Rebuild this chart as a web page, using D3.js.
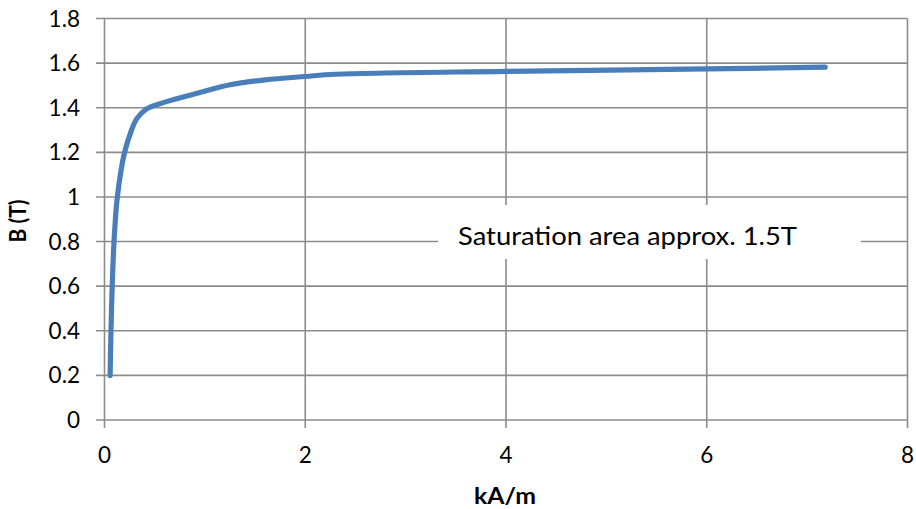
<!DOCTYPE html>
<html><head><meta charset="utf-8">
<script src="https://cdn.jsdelivr.net/npm/d3@7"></script>
<style>html,body{margin:0;padding:0;background:#fff;}svg{display:block;}</style>
</head><body>
<svg id="c" width="916" height="509"></svg>
<script>
const H = [0.056, 0.07, 0.095, 0.128, 0.2, 0.27, 0.32, 0.42, 0.6, 0.95, 1.25, 1.6, 2.0, 2.3, 4.0, 6.0, 7.18];
const B = [0.2, 0.5, 0.8, 1.0, 1.2, 1.3, 1.35, 1.395, 1.425, 1.468, 1.503, 1.525, 1.54, 1.55, 1.563, 1.574, 1.582];
const xTicks = [0, 2, 4, 6, 8];
const yTicks = [0, 0.2, 0.4, 0.6, 0.8, 1, 1.2, 1.4, 1.6, 1.8];
const xTitle = "kA/m", yTitle = "B (T)";
const note = "Saturation area approx. 1.5T";

const svg = d3.select("#c");
const font = "Lato, 'Open Sans', sans-serif";
const x = d3.scaleLinear().domain([0, 8]).range([104.5, 907.5]);
const y = d3.scaleLinear().domain([0, 1.8]).range([420, 18.5]);
const grid = "#8c8c8c";

svg.append("g").selectAll("line").data(yTicks).join("line")
  .attr("x1", 96).attr("x2", x(8)).attr("y1", d => y(d)).attr("y2", d => y(d))
  .attr("stroke", grid).attr("stroke-width", 1.6);
svg.append("g").selectAll("line").data(xTicks).join("line")
  .attr("x1", d => x(d)).attr("x2", d => x(d)).attr("y1", y(1.8)).attr("y2", 428)
  .attr("stroke", grid).attr("stroke-width", 1.6);

svg.append("g").selectAll("text").data(yTicks).join("text")
  .attr("x", 80).attr("y", d => y(d)).attr("dy", "0.36em")
  .attr("text-anchor", "end").attr("font-family", font).attr("font-size", 22.5).attr("fill", "#000")
  .text(d => d3.format("")(d));
svg.append("g").selectAll("text").data(xTicks).join("text")
  .attr("x", d => x(d)).attr("y", 463)
  .attr("text-anchor", "middle").attr("font-family", font).attr("font-size", 22.5).attr("fill", "#000")
  .text(d => d);

svg.append("text").attr("x", 505).attr("y", 504).attr("text-anchor", "middle")
  .attr("font-family", font).attr("font-weight", "bold").attr("font-size", 23)
  .attr("textLength", 62).attr("lengthAdjust", "spacingAndGlyphs").text(xTitle);
svg.append("text").attr("transform", "translate(26,221) rotate(-90)").attr("text-anchor", "middle")
  .attr("font-family", font).attr("font-weight", "bold").attr("font-size", 22)
  .attr("textLength", 43).attr("lengthAdjust", "spacingAndGlyphs").text(yTitle);

const pts = H.map((h, i) => [h, B[i]]);
svg.append("path").datum(pts)
  .attr("d", d3.line().x(d => x(d[0])).y(d => y(d[1])).curve(d3.curveCatmullRom.alpha(0.5)))
  .attr("fill", "none").attr("stroke", "#4a7ebb").attr("stroke-width", 5.2)
  .attr("stroke-linecap", "round").attr("stroke-linejoin", "round");

svg.append("rect").attr("x", 438).attr("y", 205).attr("width", 423).attr("height", 54).attr("fill", "#fff");
svg.append("text").attr("x", 458).attr("y", 245)
  .attr("font-family", font).attr("font-size", 25).attr("textLength", 339).attr("lengthAdjust", "spacingAndGlyphs")
  .text(note);
</script>
</body></html>
